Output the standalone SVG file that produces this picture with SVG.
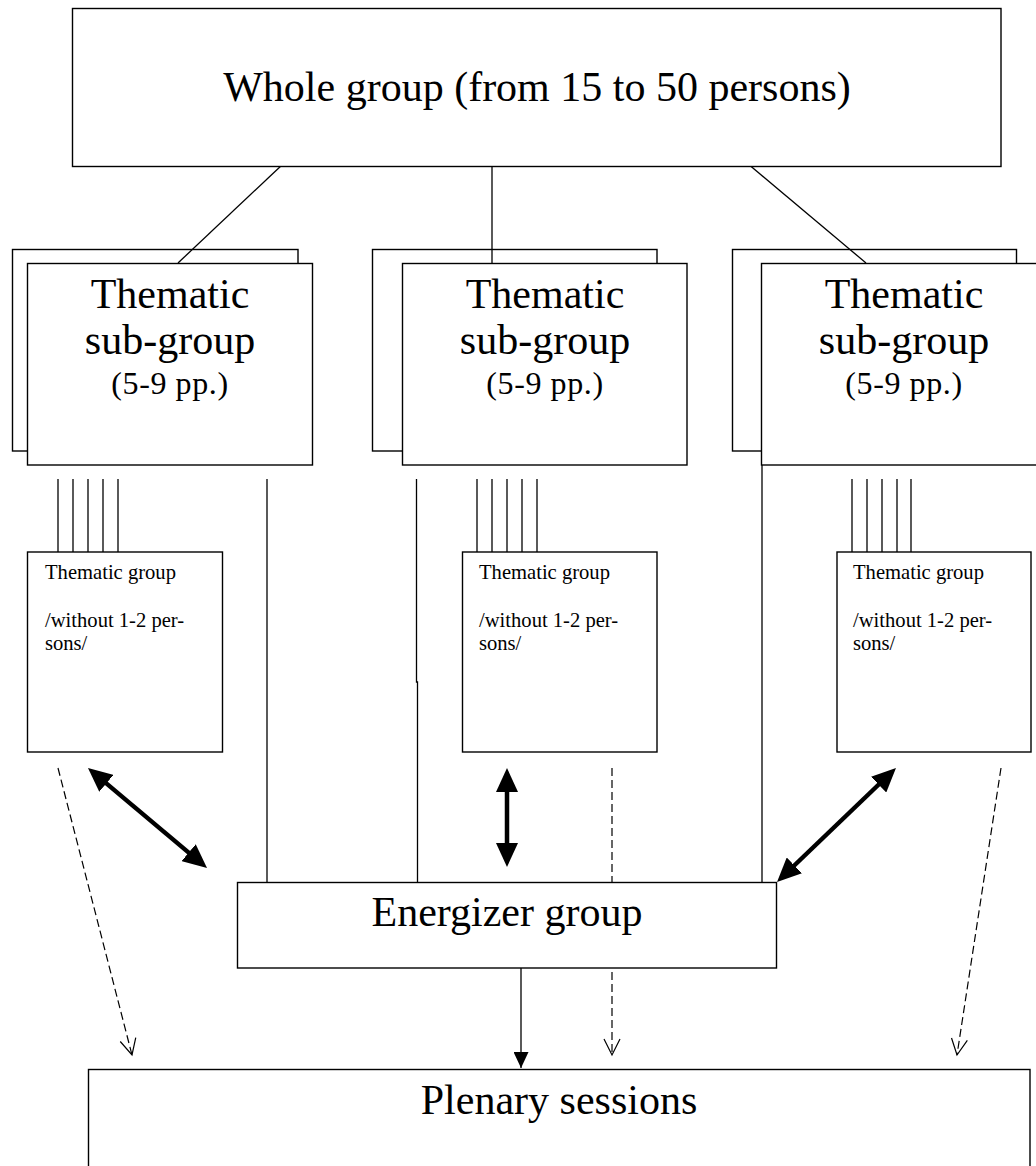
<svg xmlns="http://www.w3.org/2000/svg" width="1036" height="1166" viewBox="0 0 1036 1166">
<style>
  .box { fill: #fff; stroke: #000; stroke-width: 1.4; }
  .back { fill: none; stroke: #000; stroke-width: 1.4; }
  .ln { fill: none; stroke: #000; stroke-width: 1.3; }
  .dash { fill: none; stroke: #000; stroke-width: 1.2; stroke-dasharray: 8 4; }
  .bold { fill: none; stroke: #000; stroke-width: 4.5; }
  .big { font-family: "Liberation Serif", "Times New Roman", serif; font-size: 42px; fill: #000; text-anchor: middle; }
  .mid { font-family: "Liberation Serif", "Times New Roman", serif; font-size: 32px; letter-spacing: 0.6px; fill: #000; text-anchor: middle; }
  .small { font-family: "Liberation Serif", "Times New Roman", serif; font-size: 20.6px; fill: #000; }
</style>
<defs>
  <marker id="boldHead" markerUnits="userSpaceOnUse" viewBox="0 0 24 22" markerWidth="24" markerHeight="22" refX="16" refY="11" orient="auto-start-reverse">
    <path d="M0,0 L24,11 L0,22 Z" fill="#000"/>
  </marker>
  <marker id="solidHead" markerUnits="userSpaceOnUse" viewBox="0 0 16 15" markerWidth="16" markerHeight="15" refX="16" refY="7.5" orient="auto">
    <path d="M0,0 L16,7.5 L0,15 Z" fill="#000"/>
  </marker>
  <marker id="openHead" markerUnits="userSpaceOnUse" viewBox="-1 -1 19 19" markerWidth="19" markerHeight="19" refX="16" refY="8" orient="auto">
    <path d="M0,0 L16,8 L0,16" fill="none" stroke="#000" stroke-width="1.2" stroke-dasharray="none"/>
  </marker>
</defs>

<g id="connectors">
  <!-- whole group to sub-groups -->
  <line class="ln" x1="283" y1="164" x2="178" y2="263"/>
  <line class="ln" x1="492" y1="163" x2="492" y2="263"/>
  <line class="ln" x1="747" y1="163" x2="866" y2="263"/>
  <!-- five lines sub-group 1 -->
  <line class="ln" x1="58" y1="479" x2="58" y2="552"/>
  <line class="ln" x1="73" y1="479" x2="73" y2="552"/>
  <line class="ln" x1="88" y1="479" x2="88" y2="552"/>
  <line class="ln" x1="103" y1="479" x2="103" y2="552"/>
  <line class="ln" x1="118" y1="479" x2="118" y2="552"/>
  <!-- five lines sub-group 2 -->
  <line class="ln" x1="477" y1="479" x2="477" y2="552"/>
  <line class="ln" x1="492" y1="479" x2="492" y2="552"/>
  <line class="ln" x1="507" y1="479" x2="507" y2="552"/>
  <line class="ln" x1="522" y1="479" x2="522" y2="552"/>
  <line class="ln" x1="537" y1="479" x2="537" y2="552"/>
  <!-- five lines sub-group 3 -->
  <line class="ln" x1="852" y1="479" x2="852" y2="552"/>
  <line class="ln" x1="867" y1="479" x2="867" y2="552"/>
  <line class="ln" x1="882" y1="479" x2="882" y2="552"/>
  <line class="ln" x1="897" y1="479" x2="897" y2="552"/>
  <line class="ln" x1="911" y1="479" x2="911" y2="552"/>
  <!-- long lines to energizer -->
  <line class="ln" x1="267" y1="479" x2="267" y2="882"/>
  <path class="ln" d="M416.5,479 L416.5,682 L417.5,682 L417.5,882"/>
  <line class="ln" x1="762" y1="465" x2="762" y2="882"/>
  <!-- bold double arrows -->
  <line class="bold" x1="94.1" y1="773.1" x2="200.9" y2="862.9" marker-start="url(#boldHead)" marker-end="url(#boldHead)"/>
  <line class="bold" x1="507" y1="776" x2="507" y2="859" marker-start="url(#boldHead)" marker-end="url(#boldHead)"/>
  <line class="bold" x1="890.2" y1="773.5" x2="782.8" y2="876.5" marker-start="url(#boldHead)" marker-end="url(#boldHead)"/>
  <!-- dashed arrows to plenary -->
  <line class="dash" x1="58" y1="768" x2="132" y2="1055" marker-end="url(#openHead)"/>
  <line class="dash" x1="612" y1="768" x2="612" y2="1055" marker-end="url(#openHead)"/>
  <line class="dash" x1="1001" y1="768" x2="957" y2="1055" marker-end="url(#openHead)"/>
  <!-- energizer to plenary -->
  <line class="ln" x1="521" y1="968" x2="521" y2="1068" marker-end="url(#solidHead)"/>
</g>

<g id="whole-group">
  <rect class="box" x="72.5" y="8.5" width="928.5" height="158"/>
  <text class="big" x="537" y="101">Whole group (from 15 to 50 persons)</text>
</g>

<g id="subgroup-1">
  <rect class="back" x="12.5" y="249.5" width="285.5" height="201.5"/>
  <rect class="box" x="27.5" y="263.5" width="285" height="201.5"/>
  <text class="big" x="170" y="308">Thematic</text>
  <text class="big" x="170" y="354">sub-group</text>
  <text class="mid" x="170" y="394">(5-9 pp.)</text>
</g>

<g id="subgroup-2">
  <rect class="back" x="372.5" y="249.5" width="284.5" height="201.5"/>
  <rect class="box" x="402.5" y="263.5" width="284.5" height="201.5"/>
  <text class="big" x="545" y="308">Thematic</text>
  <text class="big" x="545" y="354">sub-group</text>
  <text class="mid" x="545" y="394">(5-9 pp.)</text>
</g>

<g id="subgroup-3">
  <rect class="back" x="732.5" y="249.5" width="284" height="201.5"/>
  <rect class="box" x="761.5" y="263.5" width="290" height="201.5"/>
  <text class="big" x="904" y="308">Thematic</text>
  <text class="big" x="904" y="354">sub-group</text>
  <text class="mid" x="904" y="394">(5-9 pp.)</text>
</g>

<g id="thematic-group-1">
  <rect class="box" x="27.5" y="552" width="195" height="200"/>
  <text class="small" x="45" y="579">Thematic group</text>
  <text class="small" x="45" y="627">/without 1-2 per-</text>
  <text class="small" x="45" y="650">sons/</text>
</g>

<g id="thematic-group-2">
  <rect class="box" x="462.5" y="552" width="194.5" height="200"/>
  <text class="small" x="479" y="579">Thematic group</text>
  <text class="small" x="479" y="627">/without 1-2 per-</text>
  <text class="small" x="479" y="650">sons/</text>
</g>

<g id="thematic-group-3">
  <rect class="box" x="837" y="552" width="194" height="200"/>
  <text class="small" x="853" y="579">Thematic group</text>
  <text class="small" x="853" y="627">/without 1-2 per-</text>
  <text class="small" x="853" y="650">sons/</text>
</g>

<g id="energizer-group">
  <rect class="box" x="237.5" y="882.5" width="539" height="85.5"/>
  <text class="big" x="507" y="926">Energizer group</text>
</g>

<g id="plenary-sessions">
  <rect class="box" x="88.5" y="1069.5" width="941.5" height="120"/>
  <text class="big" x="559" y="1114">Plenary sessions</text>
</g>
</svg>
